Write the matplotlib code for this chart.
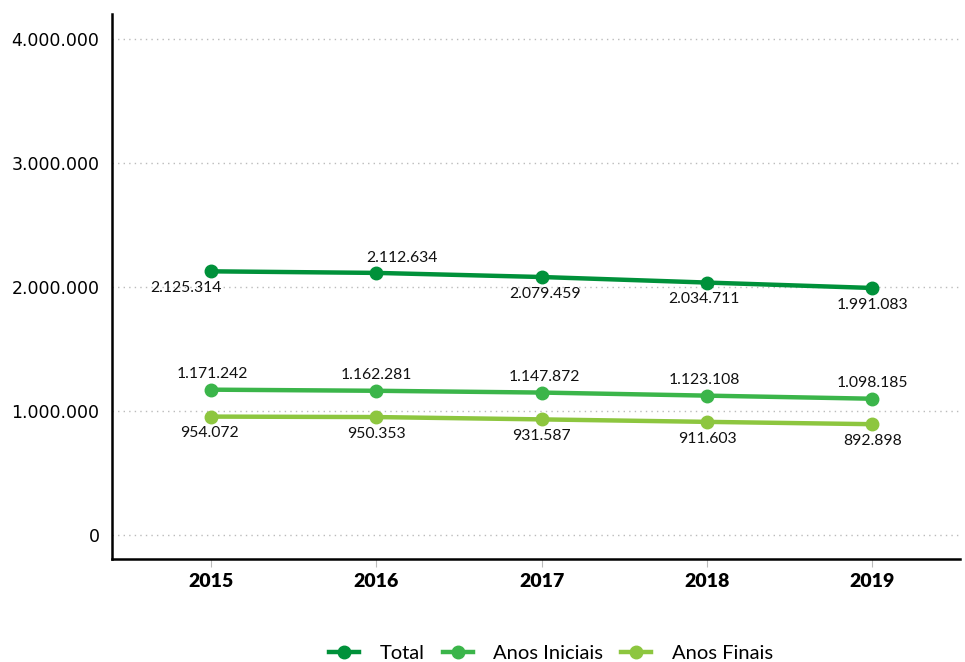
import matplotlib
matplotlib.use('Agg')
import matplotlib.pyplot as plt
from matplotlib.ticker import FuncFormatter

anos = [2015, 2016, 2017, 2018, 2019]
total = [2125314, 2112634, 2079459, 2034711, 1991083]
anos_iniciais = [1171242, 1162281, 1147872, 1123108, 1098185]
anos_finais = [954072, 950353, 931587, 911603, 892898]

series = [
    ('Total', total, '#00913a'),
    ('Anos Iniciais', anos_iniciais, '#3bb54a'),
    ('Anos Finais', anos_finais, '#8dc63f'),
]

# label offsets (points) per series / year
offsets = {
    'Total': [(-18, -12), (18, 11), (2, -12), (-2, -12), (0, -12)],
    'Anos Iniciais': [(1, 11), (0, 11), (2, 11), (-2, 11), (0, 11)],
    'Anos Finais': [(-1, -12), (0, -12), (0, -12), (0, -12), (0, -12)],
}


def fmt_br(v):
    return f'{int(round(v)):,}'.replace(',', '.')


fig = plt.figure(figsize=(9.65, 6.62), dpi=100)
ax = fig.add_axes([112 / 965, 1 - 559 / 662, (960 - 112) / 965, (559 - 14) / 662])

for name, vals, col in series:
    ax.plot(anos, vals, color=col, lw=3.2, marker='o', ms=9, label=name, zorder=3)
    for x, v, (dx, dy) in zip(anos, vals, offsets[name]):
        ax.annotate(fmt_br(v), (x, v), xytext=(dx, dy), textcoords='offset points',
                    ha='center', va='center', fontsize=11.3, family='Lato', color='#111111')

ax.set_ylim(-194000, 4200000)
ax.set_xlim(2014.40, 2019.53)
ax.set_yticks([0, 1000000, 2000000, 3000000, 4000000])
ax.yaxis.set_major_formatter(FuncFormatter(lambda v, p: fmt_br(v)))
ax.set_xticks(anos)
ax.set_xticklabels([str(a) for a in anos], fontweight='heavy', fontsize=14, family='Lato')
ax.tick_params(axis='y', length=0, pad=9, labelsize=12.5)
ax.tick_params(axis='x', length=6, color='#bbbbbb', pad=4)

ax.grid(axis='y', color='#bbbbbb', linestyle=(0, (1, 3)), lw=1)
ax.spines['top'].set_visible(False)
ax.spines['right'].set_visible(False)
ax.spines['left'].set_linewidth(1.8)
ax.spines['bottom'].set_linewidth(1.8)

ax.legend(loc='center', bbox_to_anchor=(551 / 965, (662 - 653) / 662), bbox_transform=fig.transFigure,
          ncol=3, frameon=False, prop={'family': 'Lato', 'size': 14.5}, handlelength=1.5,
          columnspacing=0.9, handletextpad=1.0)

fig.savefig('out.png', dpi=100)
